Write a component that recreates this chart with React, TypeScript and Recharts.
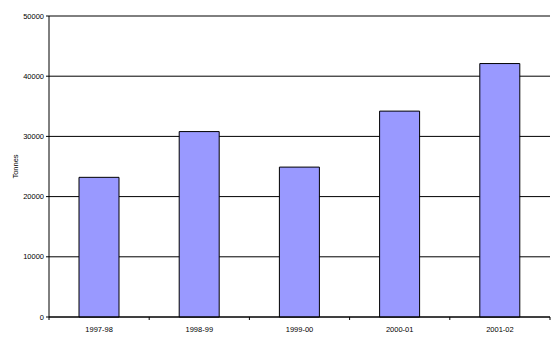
import { Bar, BarChart, CartesianGrid, XAxis, YAxis } from "recharts";

const SEASONS = ["1997-98", "1998-99", "1999-00", "2000-01", "2001-02"];
const TONNES = [23200, 30800, 24900, 34200, 42100];
const Y_TICKS = [0, 10000, 20000, 30000, 40000, 50000];

const W = 559;
const H = 343;
const M = { top: 16, right: 9, left: 0, bottom: 0 };
const Y_W = 49;
const X_H = 26;
const PLOT_W = W - M.left - M.right - Y_W;
const FONT = "'Liberation Sans', Arial, sans-serif";

const data = SEASONS.map((s, i) => ({ season: s, tonnes: TONNES[i] }));

// category labels in the middle, tick marks on the band edges
function SeasonTick(props: any) {
  const { x, y, payload, index } = props;
  const half = PLOT_W / SEASONS.length / 2;
  const axisY = y - 10;
  return (
    <g>
      <line x1={x - half} x2={x - half} y1={axisY} y2={axisY + 3} stroke="#000" />
      {index === SEASONS.length - 1 && (
        <line x1={x + half} x2={x + half} y1={axisY} y2={axisY + 3} stroke="#000" />
      )}
      <text x={x} y={y + 5} textAnchor="middle" fontSize={7.5} fontFamily={FONT} fill="#000">
        {payload.value}
      </text>
    </g>
  );
}

function TonnesLabel(props: any) {
  const vb = props.viewBox || { x: 0, y: 0, height: 0 };
  const cx = vb.x + 15.5;
  const cy = vb.y + vb.height / 2;
  return (
    <text
      x={cx}
      y={cy}
      transform={`rotate(-90, ${cx}, ${cy})`}
      textAnchor="middle"
      dominantBaseline="central"
      fontSize={7.5}
      fontFamily={FONT}
      fill="#000"
    >
      Tonnes
    </text>
  );
}

export default function App() {
  return (
    <div style={{ position: "absolute", left: 0, top: 0, background: "#fff" }}>
      <BarChart width={W} height={H} data={data} margin={M}>
        <CartesianGrid vertical={false} stroke="#000" />
        <XAxis
          dataKey="season"
          height={X_H}
          stroke="#000"
          tickLine={false}
          tickSize={4}
          tickMargin={6}
          interval={0}
          tick={<SeasonTick />}
        />
        <YAxis
          width={Y_W}
          domain={[0, 50000]}
          ticks={Y_TICKS}
          stroke="#000"
          tickSize={3}
          tickMargin={2}
          tick={{ fontSize: 7.5, fontFamily: FONT, fill: "#000" }}
          label={<TonnesLabel />}
        />
        <Bar dataKey="tonnes" fill="#9999ff" stroke="#000" strokeWidth={1} barSize={40} isAnimationActive={false} />
      </BarChart>
    </div>
  );
}
